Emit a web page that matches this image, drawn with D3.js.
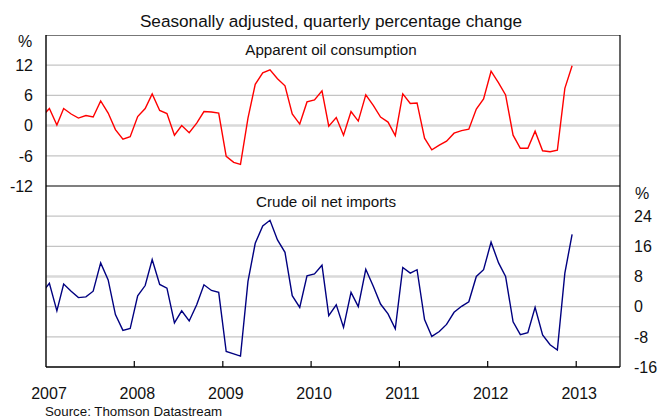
<!DOCTYPE html>
<html>
<head>
<meta charset="utf-8">
<script src="https://cdn.jsdelivr.net/npm/d3@7"></script>
<style>
  body { margin: 0; background: #fff; }
  svg text { font-family: "Liberation Sans", Arial, sans-serif; fill: #111; }
</style>
</head>
<body>
<div id="chart"></div>
<script>
'use strict';

// monthly observations, Dec 2006 .. Dec 2012 (first one sits just left of the axis)
var startMonth = new Date(2006, 11, 15);
var consumption = [1.8,
  3.4, 0.1, 3.4, 2.3, 1.5, 2.0, 1.7, 4.9, 2.5, -0.8, -2.7, -2.2,
  1.8, 3.4, 6.3, 3.0, 2.4, -1.9, 0.0, -1.4, 0.5, 2.8, 2.7, 2.5,
  -6.1, -7.3, -7.7, 1.5, 8.2, 10.5, 11.1, 9.3, 7.9, 2.3, 0.3, 4.7,
  5.1, 6.9, -0.1, 1.6, -1.9, 2.8, 0.9, 6.1, 4.0, 1.7, 0.7, -2.0,
  6.3, 4.4, 4.5, -2.5, -4.8, -3.9, -3.1, -1.5, -1.0, -0.7, 3.3, 5.3,
  10.8, 8.5, 6.1, -1.9, -4.5, -4.5, -1.1, -5.0, -5.2, -4.9, 7.4, 11.9];
var imports = [3.6,
  6.2, -1.1, 6.0, 4.1, 2.4, 2.6, 4.1, 11.6, 7.1, -2.1, -6.3, -5.8,
  2.9, 5.6, 12.5, 5.9, 4.9, -4.3, -1.1, -3.8, 0.5, 5.8, 4.3, 3.8,
  -11.9, -12.5, -13.1, 6.7, 16.8, 21.4, 22.9, 17.7, 14.4, 2.9, -0.2, 8.2,
  8.7, 11.0, -2.4, 0.5, -5.5, 3.8, 0.0, 9.9, 5.4, 0.7, -1.9, -5.9,
  10.4, 8.9, 9.8, -3.4, -7.9, -6.6, -4.7, -1.5, 0.1, 1.3, 8.0, 9.8,
  17.1, 11.6, 8.0, -4.0, -7.4, -6.9, -0.2, -7.5, -10.1, -11.5, 8.9, 19.2];
var years = [2007, 2008, 2009, 2010, 2011, 2012, 2013];
var topTicks = [-12, -6, 0, 6, 12];
var bottomTicks = [-16, -8, 0, 8, 16, 24];

var W = 660, H = 418;
var plotLeft = 46, plotRight = 620, plotTop = 35, plotMid = 186, plotBottom = 367;

var svg = d3.select('#chart').append('svg')
  .attr('width', W).attr('height', H);

var x = d3.scaleTime()
  .domain([new Date(2007, 0, 1), new Date(2013, 6, 1)])
  .range([plotLeft, plotRight]);
var yTop = d3.scaleLinear().domain([-12, 18]).range([plotMid, plotTop]);
var yBot = d3.scaleLinear().domain([-16, 32]).range([plotBottom, plotMid]);

function monthDate(i) { return d3.timeMonth.offset(startMonth, i); }

// clip paths for the two panels
var defs = svg.append('defs');
defs.append('clipPath').attr('id', 'clipTop').append('rect')
  .attr('x', plotLeft).attr('y', plotTop).attr('width', plotRight - plotLeft).attr('height', plotMid - plotTop);
defs.append('clipPath').attr('id', 'clipBot').append('rect')
  .attr('x', plotLeft).attr('y', plotMid).attr('width', plotRight - plotLeft).attr('height', plotBottom - plotMid);

// gridlines
svg.append('g').selectAll('line')
  .data([12, 6, 0, -6]).enter().append('line')
  .attr('x1', plotLeft).attr('x2', plotRight)
  .attr('y1', function(d) { return yTop(d); })
  .attr('y2', function(d) { return yTop(d); })
  .attr('stroke', function(d) { return d === 0 ? '#d9d9d9' : '#c4c4c4'; })
  .attr('stroke-width', function(d) { return d === 0 ? 2.5 : 1.2; });

svg.append('g').selectAll('line')
  .data([24, 16, 8, 0, -8]).enter().append('line')
  .attr('x1', plotLeft).attr('x2', plotRight)
  .attr('y1', function(d) { return yBot(d); })
  .attr('y2', function(d) { return yBot(d); })
  .attr('stroke', function(d) { return d === 8 ? '#d9d9d9' : '#c4c4c4'; })
  .attr('stroke-width', function(d) { return d === 8 ? 2.5 : 1.2; });

// lines
var lineTop = d3.line()
  .x(function(d, i) { return x(monthDate(i)); })
  .y(function(d) { return yTop(d); });
var lineBot = d3.line()
  .x(function(d, i) { return x(monthDate(i)); })
  .y(function(d) { return yBot(d); });

svg.append('path').datum(consumption)
  .attr('clip-path', 'url(#clipTop)')
  .attr('d', lineTop)
  .attr('fill', 'none').attr('stroke', '#ff0000').attr('stroke-width', 1.4);

svg.append('path').datum(imports)
  .attr('clip-path', 'url(#clipBot)')
  .attr('d', lineBot)
  .attr('fill', 'none').attr('stroke', '#000080').attr('stroke-width', 1.4);

// frame
svg.append('line').attr('x1', plotLeft).attr('x2', plotRight).attr('y1', plotTop + 0.5).attr('y2', plotTop + 0.5)
  .attr('stroke', '#777').attr('stroke-width', 1.2);
svg.append('line').attr('x1', plotLeft).attr('x2', plotRight).attr('y1', plotMid).attr('y2', plotMid)
  .attr('stroke', '#000').attr('stroke-width', 1.2);
svg.append('line').attr('x1', plotLeft).attr('x2', plotRight).attr('y1', plotBottom).attr('y2', plotBottom)
  .attr('stroke', '#000').attr('stroke-width', 1.4);
svg.append('line').attr('x1', plotLeft).attr('x2', plotLeft).attr('y1', plotTop).attr('y2', plotBottom)
  .attr('stroke', '#000').attr('stroke-width', 1.4);
svg.append('line').attr('x1', plotRight).attr('x2', plotRight).attr('y1', plotTop).attr('y2', plotBottom)
  .attr('stroke', '#000').attr('stroke-width', 1.2);

// x axis ticks (inside) and labels
svg.append('g').selectAll('line')
  .data(years.slice(1)).enter().append('line')
  .attr('x1', function(d) { return x(new Date(d, 0, 1)); })
  .attr('x2', function(d) { return x(new Date(d, 0, 1)); })
  .attr('y1', plotBottom).attr('y2', plotBottom - 6)
  .attr('stroke', '#000').attr('stroke-width', 1.2);

svg.append('g').selectAll('text')
  .data(years).enter().append('text')
  .attr('x', function(d) { return x(new Date(d, 0, 1)) + 3; })
  .attr('y', 399)
  .attr('text-anchor', 'middle')
  .style('font-size', '16px')
  .text(function(d) { return d; });

// left axis labels
svg.append('g').selectAll('text')
  .data(topTicks).enter().append('text')
  .attr('x', 33)
  .attr('y', function(d) { return yTop(d) + 5.8; })
  .attr('text-anchor', 'end')
  .style('font-size', '16px')
  .text(function(d) { return d; });
svg.append('text').attr('x', 25).attr('y', 47).attr('text-anchor', 'middle')
  .style('font-size', '16px').text('%');

// right axis labels
svg.append('g').selectAll('text')
  .data(bottomTicks).enter().append('text')
  .attr('x', 634)
  .attr('y', function(d) { return yBot(d) + 5.8; })
  .attr('text-anchor', 'start')
  .style('font-size', '16px')
  .text(function(d) { return d; });
svg.append('text').attr('x', 642).attr('y', 199).attr('text-anchor', 'middle')
  .style('font-size', '16px').text('%');

// titles
svg.append('text').attr('x', 331).attr('y', 27).attr('text-anchor', 'middle')
  .style('font-size', '17.2px').text('Seasonally adjusted, quarterly percentage change');
svg.append('text').attr('x', 331).attr('y', 55).attr('text-anchor', 'middle')
  .style('font-size', '15.2px').text('Apparent oil consumption');
svg.append('text').attr('x', 326).attr('y', 207).attr('text-anchor', 'middle')
  .style('font-size', '15.2px').text('Crude oil net imports');
svg.append('text').attr('x', 45).attr('y', 416)
  .style('font-size', '13.3px').text('Source: Thomson Datastream');
</script>
</body>
</html>
